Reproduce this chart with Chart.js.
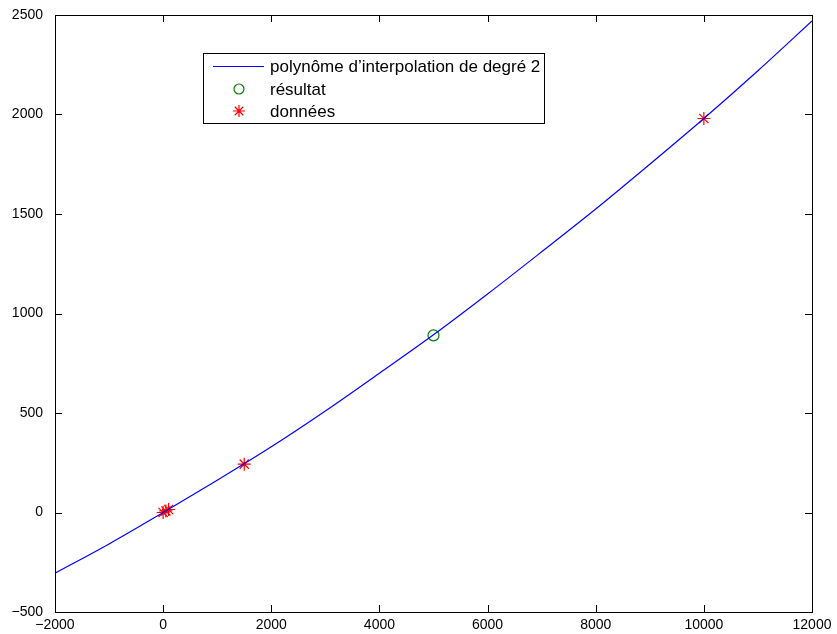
<!DOCTYPE html>
<html>
<head>
<meta charset="utf-8">
<script src="https://cdn.jsdelivr.net/npm/chart.js@4/dist/chart.umd.min.js"></script>
<style>
  html, body { margin: 0; padding: 0; background: #fff; }
  #wrap { width: 837px; height: 634px; }
</style>
</head>
<body>
<div id="wrap"><canvas id="chart" width="837" height="634"></canvas></div>
<script>
// Curve (x every 1000)
const curveX = [-2000, -1000, 0, 1000, 2000, 3000, 4000, 5000, 6000, 7000, 8000, 9000, 10000, 11000, 12000];
const curveY = [-305, -158, 0, 162, 330, 510, 700, 893, 1098, 1310, 1525, 1750, 1980, 2220, 2470];

// data points (red stars)
const dataX = [0, 50, 100, 1500, 10000];
const dataY = [0, 8, 15, 243, 1980];

// result (green circle)
const resultX = [5000];
const resultY = [890];

const xTicks = [-2000, 0, 2000, 4000, 6000, 8000, 10000, 12000];
const yTicks = [-500, 0, 500, 1000, 1500, 2000, 2500];

const legendLabels = ['polynôme d\u2019interpolation de degré 2', 'résultat', 'données'];

const FAMILY = '"Liberation Sans", Arial, sans-serif';

const toPts = (xs, ys) => xs.map((x, i) => ({ x: x, y: ys[i] }));
const fmt = v => String(v).replace('-', '\u2212');

// draw box + inward ticks like matlab, plus the legend
const boxPlugin = {
    id: 'box',
    afterDraw(chart) {
        const ctx = chart.ctx;
        const a = chart.chartArea;
        const sx = chart.scales.x, sy = chart.scales.y;
        const tl = 7;
        ctx.save();
        ctx.strokeStyle = '#000';
        ctx.lineWidth = 1;
        ctx.beginPath();
        xTicks.forEach(v => {
            const px = Math.round(sx.getPixelForValue(v)) + 0.5;
            ctx.moveTo(px, a.bottom); ctx.lineTo(px, a.bottom - tl);
            ctx.moveTo(px, a.top); ctx.lineTo(px, a.top + tl);
        });
        yTicks.forEach(v => {
            const py = Math.round(sy.getPixelForValue(v)) + 0.5;
            ctx.moveTo(a.left, py); ctx.lineTo(a.left + tl, py);
            ctx.moveTo(a.right, py); ctx.lineTo(a.right - tl, py);
        });
        ctx.stroke();
        ctx.strokeRect(Math.round(a.left) + 0.5, Math.round(a.top) + 0.5,
            Math.round(a.right - a.left), Math.round(a.bottom - a.top));

        // legend
        const lx = 203, ly = 53, lw = 341, lh = 70;
        ctx.fillStyle = '#fff';
        ctx.fillRect(lx, ly, lw, lh);
        ctx.strokeRect(lx + 0.5, ly + 0.5, lw, lh);
        const rows = [66, 89, 111];
        ctx.font = '17px ' + FAMILY;
        ctx.fillStyle = '#000';
        ctx.textBaseline = 'middle';
        ctx.textAlign = 'left';
        legendLabels.forEach((t, i) => ctx.fillText(t, 270, rows[i] + 1));
        ctx.strokeStyle = '#0000ff';
        ctx.beginPath();
        ctx.moveTo(213, rows[0] + 0.5); ctx.lineTo(264, rows[0] + 0.5);
        ctx.stroke();
        ctx.strokeStyle = '#008000';
        ctx.lineWidth = 1.2;
        ctx.beginPath();
        ctx.arc(239, rows[1], 5, 0, Math.PI * 2);
        ctx.stroke();
        ctx.strokeStyle = '#ff0000';
        ctx.fillStyle = '#ff0000';
        Chart.helpers.drawPoint(ctx, { pointStyle: 'star', radius: 6, borderWidth: 1.2 }, 239, rows[2]);
        ctx.restore();
    }
};

new Chart(document.getElementById('chart'), {
    type: 'scatter',
    data: {
        datasets: [
            {
                label: legendLabels[0],
                type: 'line',
                data: toPts(curveX, curveY),
                borderColor: '#0000ff',
                borderWidth: 1.2,
                pointRadius: 0,
                tension: 0.4,
                cubicInterpolationMode: 'monotone',
                fill: false
            },
            {
                label: legendLabels[1],
                data: toPts(resultX, resultY),
                pointStyle: 'circle',
                pointRadius: 5.5,
                borderColor: '#008000',
                backgroundColor: 'rgba(0,0,0,0)',
                borderWidth: 1.2
            },
            {
                label: legendLabels[2],
                data: toPts(dataX, dataY),
                pointStyle: 'star',
                pointRadius: 6.5,
                borderColor: '#ff0000',
                backgroundColor: '#ff0000',
                borderWidth: 1.2
            }
        ]
    },
    options: {
        responsive: false,
        animation: false,
        events: [],
        layout: { padding: { left: 0, right: 25, top: 15, bottom: 0 } },
        plugins: { legend: { display: false }, tooltip: { enabled: false } },
        scales: {
            x: {
                type: 'linear',
                min: -2000, max: 12000,
                afterFit: s => { s.height = 22; s.paddingLeft = 0; s.paddingRight = 0; },
                afterBuildTicks: s => { s.ticks = xTicks.map(v => ({ value: v })); },
                grid: { display: false, drawTicks: false },
                border: { display: false },
                ticks: { color: '#000', font: { family: FAMILY, size: 14 }, padding: 5, maxRotation: 0, autoSkip: false, callback: fmt }
            },
            y: {
                type: 'linear',
                min: -500, max: 2500,
                afterFit: s => { s.width = 55; s.paddingTop = 0; s.paddingBottom = 0; },
                afterBuildTicks: s => { s.ticks = yTicks.map(v => ({ value: v })); },
                grid: { display: false, drawTicks: false },
                border: { display: false },
                ticks: { color: '#000', font: { family: FAMILY, size: 14 }, padding: 12, autoSkip: false, callback: fmt }
            }
        }
    },
    plugins: [boxPlugin]
});
</script>
</body>
</html>
